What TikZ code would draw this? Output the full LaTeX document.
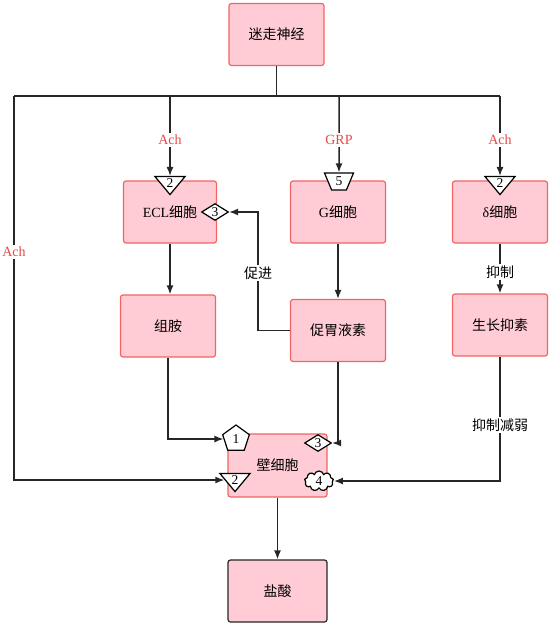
\documentclass[tikz,border=0pt]{standalone}
\usepackage{fontspec}
\setmainfont{Liberation Serif}
\newfontfamily\cjk{Noto Sans CJK SC}
\usetikzlibrary{shapes.geometric,shapes.symbols,arrows.meta}
\definecolor{boxfill}{HTML}{FFCCD5}
\definecolor{boxline}{HTML}{F06464}
\definecolor{lbl}{HTML}{E84848}
\begin{document}
\begin{tikzpicture}[x=1pt,y=-1pt,
  box/.style={draw=boxline, fill=boxfill, rounded corners=2.5pt, line width=1.2pt,
    minimum width=95pt, minimum height=62pt, font=\fontsize{14}{16}\selectfont},
  conn/.style={line width=1.5pt, draw=black!85},
  arr/.style={conn, -{Latex[length=9pt,width=7pt]}},
  lab/.style={fill=white, text=lbl, font=\fontsize{14}{16}\selectfont, inner sep=2pt},
  blab/.style={fill=white, font=\fontsize{14}{16}\selectfont\cjk, inner sep=2pt},
  mk/.style={draw=black, fill=white, line width=1.2pt, inner sep=0pt, font=\fontsize{13.5}{14}\selectfont},
  tri/.style={mk, isosceles triangle, isosceles triangle stretches, shape border rotate=270,
    minimum width=30pt, minimum height=18pt},
  trap/.style={mk, trapezium, trapezium stretches, shape border rotate=180,
    minimum width=29pt, minimum height=17pt, trapezium angle=70},
  pent/.style={mk, regular polygon, regular polygon sides=5, minimum size=28pt},
  dia/.style={mk, diamond, aspect=1.5, minimum width=27pt, minimum height=17pt},
  cld/.style={mk, cloud, cloud puffs=9, aspect=1.6, minimum width=29pt, minimum height=20pt}
]
\useasboundingbox (0,0) rectangle (552,625);

% boxes
\node[box] (vagus) at (276.5,34.5) {\cjk 迷走神经};
\node[box, minimum width=93pt] (ecl) at (170,212) {ECL\cjk 细胞};
\node[box] (g) at (338,212) {G\cjk 细胞};
\node[box] (d) at (500,212) {δ\cjk 细胞};
\node[box] (hist) at (168,326) {\cjk 组胺};
\node[box] (gas) at (338,330.5) {\cjk 促胃液素};
\node[box] (som) at (500,325) {\cjk 生长抑素};
\node[box, minimum width=99pt, minimum height=63pt] (parietal) at (277.5,465.5) {\cjk 壁细胞};
\node[box, draw=black!85, minimum width=99pt] (hcl) at (277.5,591) {\cjk 盐酸};

% markers
\node[tri] (e2) at (170,183) {2};
\node[dia] (e3) at (215,212) {3};
\node[trap] (g5) at (339,181.5) {5};
\node[tri] (d2) at (500,183) {2};
\node[pent] (p1) at (236,439) {1};
\node[dia] (p3) at (318,443) {3};
\node[tri] (p2) at (235,480) {2};
\node[cld] (p4) at (319,481) {4};

% bus
\coordinate (bl) at (14,96);
\coordinate (br) at (500,96);
\coordinate (b1) at (170,96);
\coordinate (b2) at (339,96);
\draw[conn] (vagus.south) -- (vagus.south |- bl);
\draw[conn] (bl) -- (br);

\draw[arr] (bl) |- (p2);
\node[lab] at (14,252) {Ach};
\draw[arr] (b1) -- (e2);
\node[lab] at (170,140) {Ach};
\draw[arr] (b2) -- (g5);
\node[lab] at (339,140) {GRP};
\draw[arr] (br) -- (d2);
\node[lab] at (500,140) {Ach};

% vertical flows
\draw[arr] (ecl.south) -- (ecl.south |- hist.north);
\draw[arr] (g.south) -- (gas.north);
\draw[arr] (d.south) -- (som.north);
\node[blab] at (500,272) {抑制};
\draw[arr] (parietal.south) -- (hcl.north);

% promotion
\coordinate (pk) at (258,212);
\draw[arr] (gas.west) -| (pk) -- (e3);
\node[blab] at (258,273) {促进};

% to parietal cell
\draw[arr] (hist.south) |- (p1);
\draw[arr] (gas.south) |- (p3);
\draw[arr] (som.south) |- (p4);
\node[blab] at (500,425) {抑制减弱};
\end{tikzpicture}
\end{document}
